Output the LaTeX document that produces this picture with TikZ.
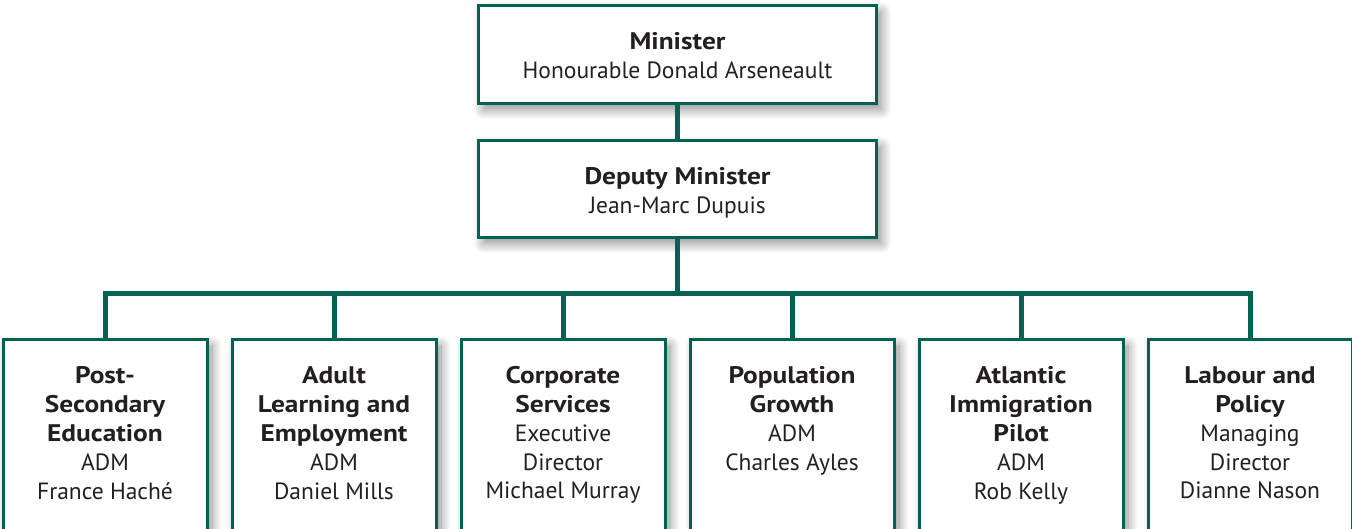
\documentclass[tikz,border=0pt]{standalone}
\usepackage{fontspec}
\setmainfont{PT Sans}[BoldFeatures={FakeStretch=1.14}]
\usetikzlibrary{shadows.blur}
\definecolor{orgteal}{RGB}{0,98,82}
\definecolor{orgtext}{RGB}{35,31,32}
% heading lines are set a little larger than the names
\newcommand{\hd}[1]{{\fontsize{24}{29}\selectfont\bfseries #1}}
% box bodies: text set from the top of the box
\newcommand{\headlines}[2]{\parbox[t][#1][t]{398pt}{\centering\rule{0pt}{44.5pt}#2}}
\newcommand{\unitlines}[1]{\parbox[t][210pt][t]{204pt}{\centering\rule{0pt}{43.5pt}#1}}
\begin{document}
\begin{tikzpicture}[x=1pt,y=1pt,
  boxshadow/.style={blur shadow={shadow xshift=5pt,shadow yshift=-6pt,
      shadow blur radius=10pt,shadow blur steps=14,shadow opacity=45}},
  headbox/.style={draw=orgteal,line width=3pt,fill=white,boxshadow,
      anchor=north,minimum width=398pt,inner sep=0pt,outer sep=0pt,
      text=orgtext,font=\fontsize{23.5}{29}\selectfont},
  unitbox/.style={draw=orgteal,line width=3pt,fill=white,boxshadow,
      anchor=north,minimum width=204pt,minimum height=210pt,
      inner sep=0pt,outer sep=0pt,text=orgtext,
      font=\fontsize{23.5}{29}\selectfont},
  link/.style={draw=orgteal,line width=5pt}]
\useasboundingbox (0,0) rectangle (1352,-529);
\clip (0,0) rectangle (1352,-529);

% executive boxes
\node[headbox,minimum height=98pt] (min) at (677.5,-5.5)
  {\headlines{98pt}{\hd{Minister}\\Honourable Donald Arseneault}};
\node[headbox,minimum height=97pt] (dep) at (677.5,-140.5)
  {\headlines{97pt}{\hd{Deputy Minister}\\Jean-Marc Dupuis}};

% divisions
\node[unitbox] (pse) at (105,-339.5)
  {\unitlines{\hd{Post-}\\\hd{Secondary}\\\hd{Education}\\ADM\\France Haché}};
\node[unitbox] (ale) at (334,-339.5)
  {\unitlines{\hd{Adult}\\\hd{Learning and}\\\hd{Employment}\\ADM\\Daniel Mills}};
\node[unitbox] (cs) at (563,-339.5)
  {\unitlines{\hd{Corporate}\\\hd{Services}\\Executive\\Director\\Michael Murray}};
\node[unitbox] (pg) at (792,-339.5)
  {\unitlines{\hd{Population}\\\hd{Growth}\\ADM\\Charles Ayles}};
\node[unitbox] (aip) at (1021,-339.5)
  {\unitlines{\hd{Atlantic}\\\hd{Immigration}\\\hd{Pilot}\\ADM\\Rob Kelly}};
\node[unitbox] (lp) at (1250,-339.5)
  {\unitlines{\hd{Labour and}\\\hd{Policy}\\Managing\\Director\\Dianne Nason}};

% reporting lines
\coordinate (bus) at (677.5,-293.5);
\draw[link] (min.south) -- (dep.north);
\draw[link] (dep.south) -- (bus);
\draw[link,line join=miter] (pse.north) |- (bus) -| (lp.north);
\foreach \u in {ale,cs,pg,aip}
  \draw[link] (\u.north) -- (\u.north |- bus);
\end{tikzpicture}
\end{document}
